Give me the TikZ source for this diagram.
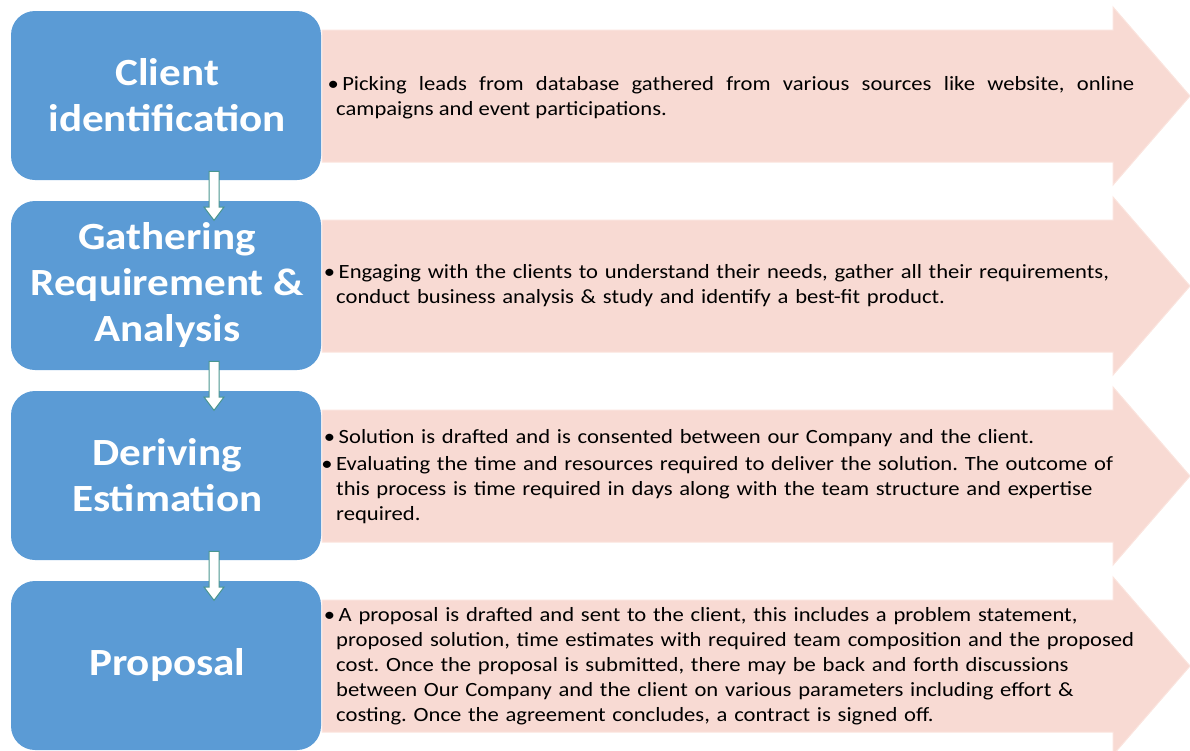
\documentclass[tikz,border=0pt]{standalone}
\usepackage{fontspec}
\setmainfont{Carlito}[FakeStretch=1.12]
\usetikzlibrary{
  calc,
  math,
  shapes.arrows,
}
\definecolor{stageblue}{HTML}{5B9BD5}
\definecolor{infopink}{HTML}{F8DAD3}
\definecolor{infoedge}{HTML}{FBE4DE}
\definecolor{flowteal}{HTML}{4A968F}
\newcommand{\titlefont}{
  \fontsize{38.5}{46}\selectfont\bfseries
}
\newcommand{\bodyfont}{
  \fontsize{20.2}{25}\selectfont\frenchspacing
}
\newcommand{\bul}{\leavevmode\llap{•\hspace{3.5pt}}}

\begin{document}
\begin{tikzpicture}[
  x=1pt,
  y=-1pt,
  stage box/.style={
    fill=stageblue,
    rounded corners=24pt,
    minimum width=310pt,
    minimum height=169pt,
    inner sep=0pt,
    text=white,
    align=center,
    font=\titlefont,
  },
  info arrow/.style={
    fill=infopink,
    draw=infoedge,
    line width=1pt,
  },
  info text/.style={
    anchor=west,
    inner sep=0pt,
    text=black,
    font=\bodyfont,
  },
  flow arrow/.style={
    single arrow,
    rotate=-90,
    minimum height=49pt,
    minimum width=20pt,
    single arrow head extend=5pt,
    single arrow tip angle=74,
    inner xsep=0pt,
    inner ysep=4.5pt,
    fill=white,
    draw=flowteal,
    line width=1pt,
  },
]
  \useasboundingbox (0,0) rectangle (1190,750);
  \clip (0,0) rectangle (1190,750);

  \tikzmath{
    \gap = 190;
    \bodyh = 132;
    \headx = 1113;
    \tipx = 1190;
  }

  %%%%%%%%%%%%%%%%%%%% INFO ARROWS %%%%%%%%%%%%%%%%%%%%

  \foreach \i in {0,...,3} {
    \tikzmath {
      \bodytop = 30 + \gap * \i;
      \bodybot = \bodytop + \bodyh;
      \bodymid = \bodytop + \bodyh / 2;
    }
    \draw[info arrow] (322,\bodytop) -- (\headx,\bodytop)
      -- (\headx,{\bodytop - 23}) -- (\tipx,\bodymid)
      -- (\headx,{\bodybot + 23}) -- (\headx,\bodybot)
      -- (322,\bodybot) -- cycle;
  }

  %%%%%%%%%%%%%%%%%%%% STAGES %%%%%%%%%%%%%%%%%%%%

  \foreach \i/\title in {
    1/{Client\\identification},
    2/{Gathering\\Requirement \&\\Analysis},
    3/{Deriving\\Estimation},
    4/{Proposal}%
  } {
    \node[stage box] (stage-\i) at (166,{95.5 + \gap * (\i - 1)}) {\title};
  }

  \foreach \i in {1,2,3} {
    \tikzmath {
      integer \j;
      \j = \i + 1;
    }
    \node[flow arrow] (flow-\i)
      at ($(stage-\i.south)!0.5!(stage-\j.north) + (48,2)$) {};
  }

  %%%%%%%%%%%%%%%%%%%% TEXTS %%%%%%%%%%%%%%%%%%%%

  \node[info text,text width=798pt,align=justify] (info-1) at (336,98)
    {\bul Picking leads from database gathered from various sources like
      website, online\linebreak campaigns and event participations.};

  \node[info text,text width=830pt,align=left] (info-2) at (336,286)
    {\bul Engaging with the clients to understand their needs, gather all
      their requirements,\\
      conduct business analysis \& study and identify a best-fit product.};

  \node[info text,text width=830pt,align=left] (info-3) at (336,477)
    {\bul Solution is drafted and is consented between our Company and the
      client.\\[2pt]
      \bul Evaluating the time and resources required to deliver the
      solution. The outcome of\\
      this process is time required in days along with the team structure
      and expertise\\
      required.};

  \node[info text,text width=830pt,align=left] (info-4) at (336,666)
    {\bul A proposal is drafted and sent to the client, this includes a
      problem statement,\\
      proposed solution, time estimates with required team composition and
      the proposed\\
      cost. Once the proposal is submitted, there may be back and forth
      discussions\\
      between Our Company and the client on various parameters including
      effort \&\\
      costing. Once the agreement concludes, a contract is signed off.};
\end{tikzpicture}
\end{document}
